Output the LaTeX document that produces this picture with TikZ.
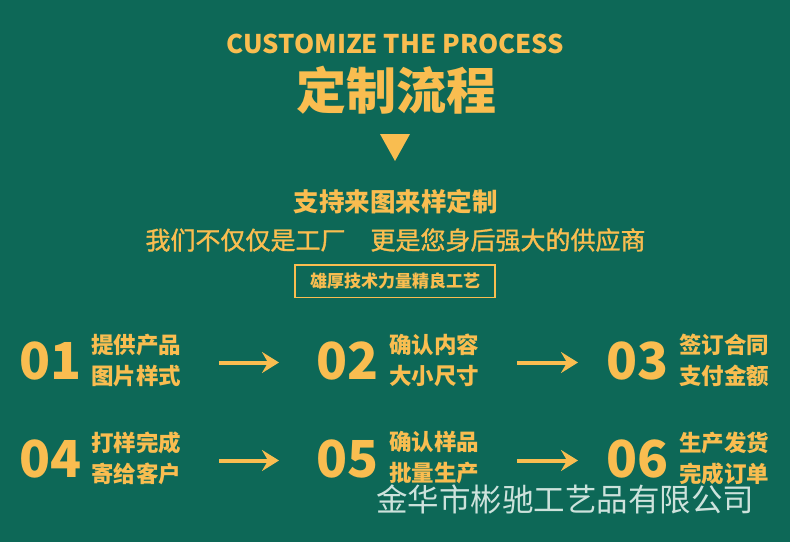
\documentclass[tikz,border=0pt]{standalone}
\usepackage{fontspec}
\newfontfamily\cjk{Noto Sans CJK SC}
\newfontfamily\cjkmedio{Noto Sans CJK SC}[FakeBold=1.3]
\usetikzlibrary{arrows.meta}

\definecolor{fondo}{RGB}{13,104,87}
\definecolor{arancio}{RGB}{249,189,80}
\definecolor{filigrana}{RGB}{205,226,220}

\tikzset{
  testo/.style={text=arancio, inner sep=0pt},
  num/.style={testo, anchor=west, font=\cjk\bfseries\fontsize{51}{51}\selectfont},
  passo/.style={testo, anchor=west, align=left, font=\cjk\bfseries\fontsize{22.5}{31}\selectfont},
  freccia/.style={draw=arancio, line width=4pt, -{Stealth[length=17pt,width=21pt,inset=6pt]}}
}

\begin{document}
\begin{tikzpicture}[x=1pt, y=-1pt]
    % Sfondo
    \fill[fondo] (0,0) rectangle (790,542);
    \useasboundingbox (0,0) rectangle (790,542);

    % Titolo
    \node[testo, font=\cjk\bfseries\fontsize{25.7}{25.7}\selectfont] (eng) at (395.5,44) {CUSTOMIZE THE PROCESS};
    \node[testo, font=\cjk\bfseries\fontsize{50}{50}\selectfont] (titolo) at (396,90) {定制流程};
    \fill[arancio] (380,134) -- (410,134) -- (395,161) -- cycle;

    % Sottotitoli
    \node[testo, font=\cjk\bfseries\fontsize{25.5}{25.5}\selectfont] (sotto) at (395.5,202) {支持来图来样定制};
    \node[testo, font=\cjkmedio\fontsize{25}{25}\selectfont] (riga) at (395.5,240) {我们不仅仅是工厂　更是您身后强大的供应商};
    \draw[arancio, line width=1.2pt] (295,265) rectangle (495,297.5);
    \node[testo, font=\cjk\bfseries\fontsize{17}{17}\selectfont] (box) at (395,281.5) {雄厚技术力量精良工艺};

    % Prima riga
    \node[num] (n1) at (19,360.5) {01};
    \node[passo] (t1) at (91,360) {提供产品\\图片样式};
    \node[num] (n2) at (316,360.5) {02};
    \node[passo] (t2) at (389,360) {确认内容\\大小尺寸};
    \node[num] (n3) at (606,360.5) {03};
    \node[passo] (t3) at (679,360) {签订合同\\支付金额};
    \draw[freccia] ([shift={(38,2.5)}]t1.east) -- ([shift={(-37,2)}]n2.west);
    \draw[freccia] ([shift={(38,2.5)}]t2.east) -- ([shift={(-28,2)}]n3.west);

    % Seconda riga
    \node[num] (n4) at (19,458.5) {04};
    \node[passo] (t4) at (91,458) {打样完成\\寄给客户};
    \node[num] (n5) at (316,458.5) {05};
    \node[passo] (t5) at (389,458) {确认样品\\批量生产};
    \node[num] (n6) at (606,458.5) {06};
    \node[passo] (t6) at (679,458) {生产发货\\完成订单};
    \draw[freccia] ([shift={(38,2.5)}]t4.east) -- ([shift={(-37,2)}]n5.west);
    \draw[freccia] ([shift={(38,2.5)}]t5.east) -- ([shift={(-28,2)}]n6.west);

    % Filigrana
    \node[inner sep=0pt, text=filigrana, font=\cjk\fontsize{31.5}{31.5}\selectfont] (marchio) at (565,499) {金华市彬驰工艺品有限公司};
\end{tikzpicture}
\end{document}
